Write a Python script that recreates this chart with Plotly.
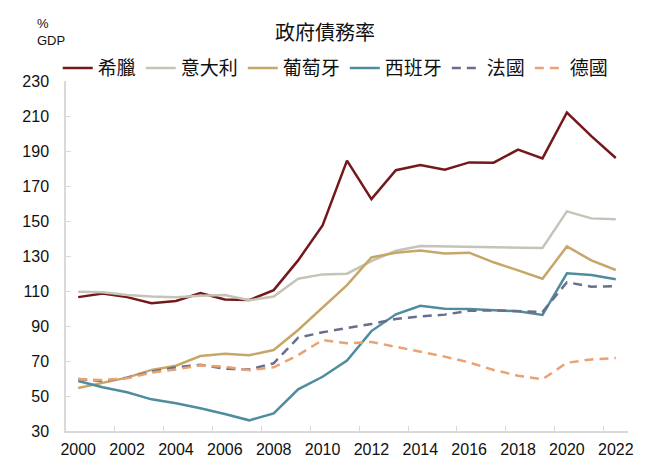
import plotly.graph_objects as go

years = list(range(2000, 2023))

greece = [106.5, 108.5, 106.5, 103.0, 104.3, 108.8, 105.2, 104.8, 110.5, 127.5, 147.5, 184.5, 162.5, 179.0, 182.0, 179.3, 183.5, 183.3, 190.8, 185.8, 212.0, 198.5, 186.0]
italy = [109.6, 109.3, 107.7, 106.8, 106.4, 107.3, 107.7, 104.7, 106.8, 117.0, 119.5, 119.9, 127.1, 133.0, 135.7, 135.5, 135.2, 134.8, 135.0, 134.6, 155.5, 151.5, 151.0]
portugal = [54.6, 57.5, 60.5, 64.9, 67.3, 72.8, 74.2, 73.3, 76.3, 87.7, 100.5, 113.4, 129.2, 131.9, 133.2, 131.5, 131.9, 126.4, 121.8, 117.0, 135.5, 127.5, 122.0]
spain = [58.6, 55.0, 52.1, 48.1, 45.8, 43.0, 39.7, 36.1, 40.1, 53.8, 61.0, 70.2, 87.1, 96.7, 101.6, 99.9, 99.7, 99.1, 98.4, 96.3, 120.1, 119.1, 116.7]
france = [59.7, 58.6, 60.5, 63.9, 66.4, 67.8, 65.6, 65.2, 68.7, 83.3, 86.4, 88.7, 91.2, 94.0, 95.5, 96.5, 98.7, 98.9, 98.5, 98.0, 115.0, 112.5, 112.7]
germany = [59.7, 59.1, 60.1, 63.4, 65.2, 67.5, 66.8, 64.7, 66.4, 73.4, 82.0, 80.1, 80.9, 78.2, 75.1, 72.5, 69.2, 64.9, 61.6, 59.5, 69.0, 70.9, 71.7]

names = ["希臘", "意大利", "葡萄牙", "西班牙", "法國", "德國"]
series = [greece, italy, portugal, spain, france, germany]
colors = ["#74191b", "#c5c4b8", "#c6a768", "#4f8d9e", "#6a6e8e", "#eba273"]
dashes = ["solid", "solid", "solid", "solid", "9px,6px", "9px,6px"]

y_ticks = list(range(30, 231, 20))
x_label_ticks = list(range(2000, 2023, 2))
x_minor_ticks = [y + 1.5 for y in range(2000, 2021, 2)]

fig = go.Figure()
for name, vals, col, dsh in zip(names, series, colors, dashes):
    fig.add_trace(go.Scatter(x=years, y=vals, mode="lines", name=name,
                             line=dict(color=col, width=2.5, dash=dsh)))

# invisible trace to activate tick-only overlay axis
fig.add_trace(go.Scatter(x=[years[0]], y=[greece[0]], xaxis="x2", mode="markers",
                         marker=dict(opacity=0), showlegend=False, hoverinfo="skip"))

font_family = "Liberation Sans, Arial, Noto Sans CJK TC, sans-serif"
cjk = "Noto Sans CJK TC, sans-serif"

fig.update_layout(
    width=642, height=462,
    margin=dict(l=58, r=22, t=73, b=39, autoexpand=False),
    paper_bgcolor="white", plot_bgcolor="white",
    font=dict(family=font_family, size=16, color="#111111"),
    title=dict(text="政府債務率", x=(325 - 8) / 642, xanchor="center", y=1 - 25 / 462, yanchor="middle",
               font=dict(family=cjk, size=20, color="#111111")),
    showlegend=True,
    legend=dict(orientation="h", x=0.48, xanchor="center", y=1.037, yanchor="middle",
                font=dict(family=cjk, size=19, color="#111111"),
                itemwidth=30, tracegroupgap=0, bgcolor="rgba(0,0,0,0)"),
    xaxis=dict(range=[1999.5, 2022.5], tickvals=x_label_ticks, ticks="", showgrid=False,
               showline=True, linecolor="#d9d9d9", linewidth=1.5, zeroline=False,
               ticklabelstandoff=3, tickfont=dict(size=16, color="#111111")),
    xaxis2=dict(overlaying="x", matches="x", range=[1999.5, 2022.5], tickvals=x_minor_ticks,
                ticks="inside", ticklen=5, tickcolor="#d9d9d9", showticklabels=False,
                showgrid=False, showline=False, zeroline=False, side="bottom"),
    yaxis=dict(range=[30, 230], tickvals=y_ticks, ticks="inside", ticklen=5, tickcolor="#d9d9d9",
               showgrid=False, showline=True, linecolor="#d9d9d9", linewidth=1.5, zeroline=False,
               ticklabelstandoff=12, tickfont=dict(size=16, color="#111111")),
    annotations=[dict(text="%<br>GDP", x=-0.055, xref="paper", y=1.14, yref="paper",
                      xanchor="left", yanchor="middle", align="left", showarrow=False,
                      font=dict(size=13, color="#111111"))],
)

fig.write_html("out.html")
